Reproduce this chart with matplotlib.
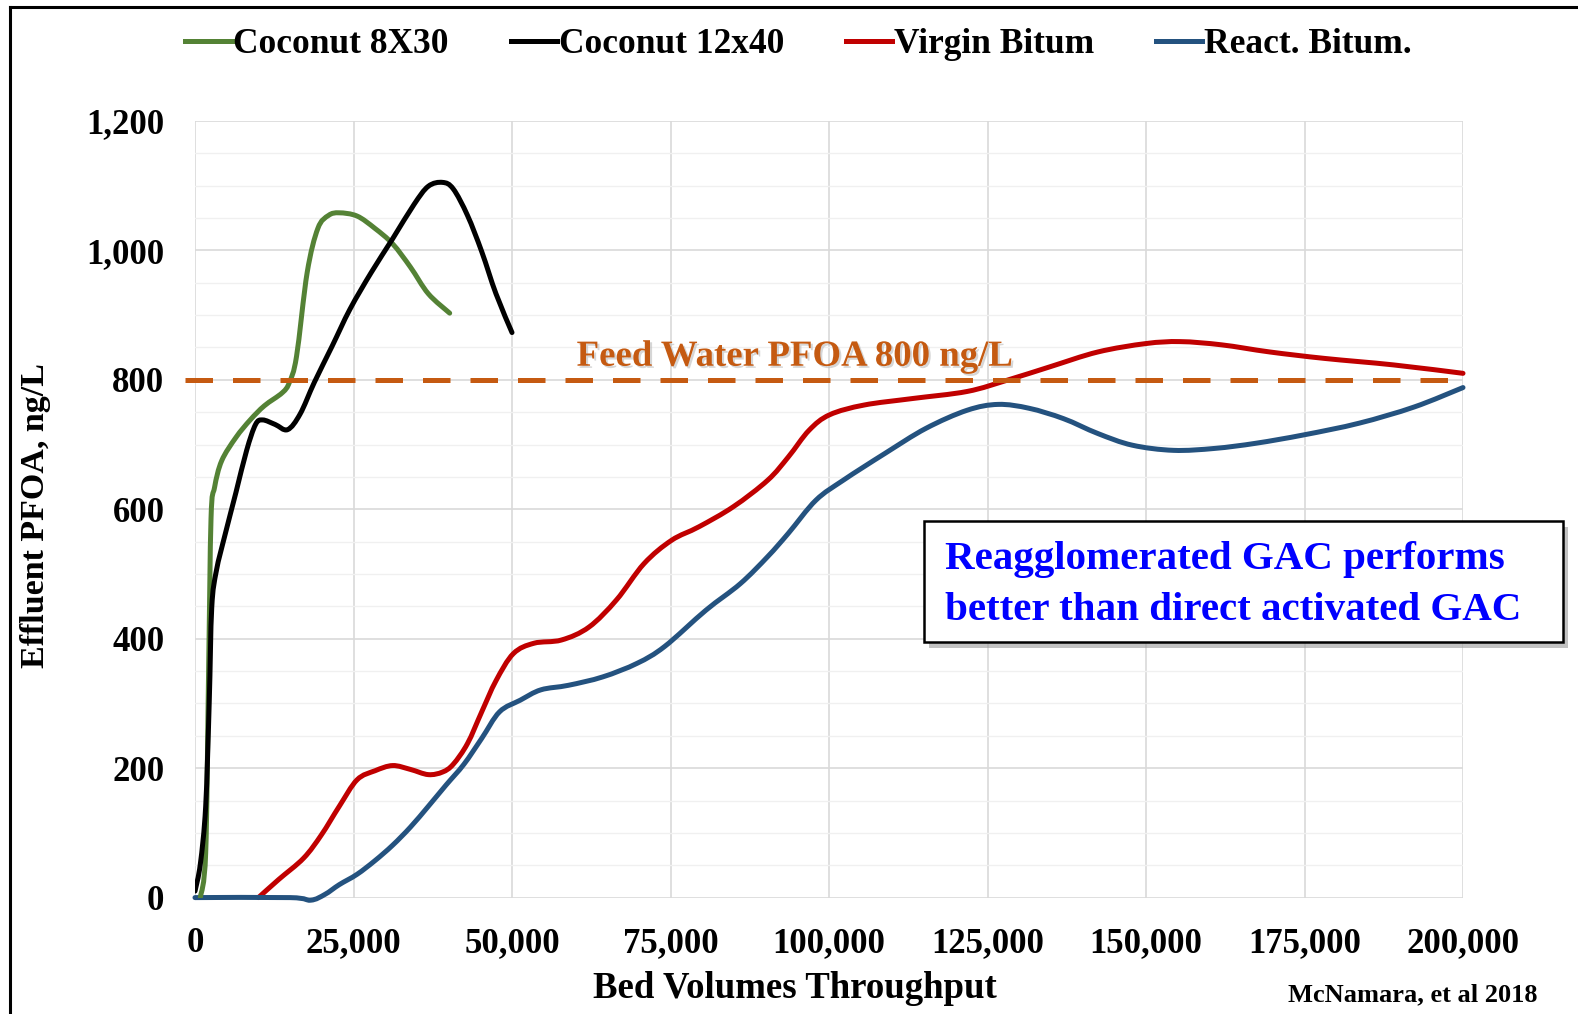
import matplotlib
matplotlib.use("Agg")
import matplotlib.pyplot as plt
import matplotlib.patheffects as pe
from matplotlib.patches import Rectangle, PathPatch
from matplotlib.path import Path
from matplotlib.lines import Line2D
from matplotlib.ticker import MultipleLocator, FuncFormatter

# ---------------- data ----------------
coconut_8x30_bv = [843, 1685, 2135, 2528, 3090, 4213, 6460, 8708, 10955, 13764, 14887,
                   16011, 17697, 19382, 21067, 22753, 25562, 28371, 31180, 33989, 36798, 40169]
coconut_8x30_val = [0, 69, 343, 586, 634, 675, 711, 738, 760, 780, 796,
                    836, 966, 1034, 1054, 1058, 1053, 1034, 1010, 974, 933, 903]

coconut_12x40_bv = [0, 843, 1685, 2247, 2640, 3371, 4775, 6460, 8146, 9551, 10674, 12640,
                    14606, 16573, 18820, 21629, 24438, 27809, 31180, 34551, 36798, 39045,
                    40730, 42978, 45225, 47472, 50000]
coconut_12x40_val = [10, 52, 141, 303, 448, 505, 562, 626, 691, 731, 738, 731,
                     723, 747, 796, 852, 909, 966, 1018, 1071, 1099, 1105,
                     1095, 1054, 998, 933, 873]

virgin_bv = [10000, 13202, 17135, 19944, 22753, 25562, 28400, 31180, 33989, 36798, 39045,
             40730, 42978, 45225, 47472, 50217, 53471, 57809, 62148, 66486, 70824, 75163,
             79501, 84924, 90347, 93601, 96855, 100108, 105531, 113124, 121800, 128308,
             134816, 142408, 149995, 155423, 161930, 169523, 178200, 189046, 200000]
virgin_val = [0, 28, 61, 97, 141, 182, 196, 204, 198, 190, 194,
              206, 238, 287, 335, 377, 393, 398, 418, 460, 516, 552,
              573, 604, 645, 681, 722, 746, 761, 771, 782, 800,
              820, 843, 856, 859, 854, 843, 833, 823, 810]

react_bv = [0, 15000, 18260, 20500, 22753, 25562, 28371, 31180, 33989, 36798, 39607, 42416,
            45225, 48034, 51301, 54555, 58893, 64317, 69740, 74078, 80586, 86009, 90347,
            93601, 97939, 102277, 108785, 115293, 121800, 126681, 131561, 136984, 142408,
            147831, 154338, 160846, 167353, 174946, 183623, 192299, 200000]
react_val = [0, 0, -4, 5, 20, 36, 57, 81, 109, 141, 174, 206,
             246, 287, 305, 321, 328, 341, 362, 388, 444, 485, 527,
             563, 614, 645, 686, 725, 753, 762, 756, 740, 717,
             699, 691, 694, 702, 715, 733, 758, 788]

feed_bv = [-1500, 200000]
feed_val = [800, 800]

series_names = ["Coconut 8X30", "Coconut 12x40", "Virgin Bitum", "React. Bitum."]
series_colors = ["#548235", "#000000", "#C00000", "#24527F"]

x_ticks = [0, 25000, 50000, 75000, 100000, 125000, 150000, 175000, 200000]
y_ticks = [0, 200, 400, 600, 800, 1000, 1200]

# ---------------- figure ----------------
SERIF = ["Liberation Serif", "DejaVu Serif"]
plt.rcParams["font.family"] = SERIF
plt.rcParams["font.weight"] = "bold"

W, H = 1578, 1014
fig = plt.figure(figsize=(W / 100, H / 100), dpi=100)
ax = fig.add_axes([195 / W, 1 - 897.6 / H, (1463 - 195) / W, (897.6 - 120.9) / H])

ax.set_xlim(0, 200000)
ax.set_ylim(0, 1200)
ax.set_xticks(x_ticks)
ax.set_yticks(y_ticks)
ax.yaxis.set_minor_locator(MultipleLocator(50))
ax.xaxis.set_major_formatter(FuncFormatter(lambda v, p: f"{int(v):,}"))
ax.yaxis.set_major_formatter(FuncFormatter(lambda v, p: f"{int(v):,}"))
ax.grid(which="major", axis="both", color="#D9D9D9", lw=1.2)
ax.grid(which="minor", axis="y", color="#F0F0F0", lw=1.0)
ax.set_axisbelow(True)
for s in ax.spines.values():
    s.set_visible(False)
ax.tick_params(axis="both", which="both", length=0)
ax.tick_params(axis="y", pad=22, labelsize=25)
ax.tick_params(axis="x", pad=21, labelsize=25)
for lab in ax.get_xticklabels() + ax.get_yticklabels():
    lab.set_fontweight("bold")


def smooth_line(xs, ys, color, label, zorder, clip=True):
    """Excel-style smoothed line: cubic Bezier segments through the data points."""
    pts = list(zip(xs, ys))
    n = len(pts)
    verts = [pts[0]]
    codes = [Path.MOVETO]
    for i in range(n - 1):
        p0 = pts[i - 1] if i > 0 else pts[i]
        p1 = pts[i]
        p2 = pts[i + 1]
        p3 = pts[i + 2] if i + 2 < n else pts[i + 1]
        c1 = (p1[0] + (p2[0] - p0[0]) / 6.0, p1[1] + (p2[1] - p0[1]) / 6.0)
        c2 = (p2[0] - (p3[0] - p1[0]) / 6.0, p2[1] - (p3[1] - p1[1]) / 6.0)
        verts += [c1, c2, p2]
        codes += [Path.CURVE4] * 3
    patch = PathPatch(Path(verts, codes), facecolor="none", edgecolor=color, lw=3.6,
                      capstyle="round", joinstyle="round", zorder=zorder,
                      transform=ax.transData)
    patch.set_clip_on(clip)
    ax.add_patch(patch)
    # proxy for legend
    ax.plot([], [], color=color, lw=3.6, label=label)


smooth_line(coconut_8x30_bv, coconut_8x30_val, series_colors[0], series_names[0], 4)
smooth_line(coconut_12x40_bv, coconut_12x40_val, series_colors[1], series_names[1], 4)
smooth_line(virgin_bv, virgin_val, series_colors[2], series_names[2], 3, clip=False)
smooth_line(react_bv, react_val, series_colors[3], series_names[3], 3, clip=False)

ax.plot(feed_bv, feed_val, color="#C55A11", lw=3.6, dashes=(5.5, 4.0),
        clip_on=False, zorder=5)

ax.text(0.473, 0.697, "Feed Water PFOA 800 ng/L", transform=ax.transAxes,
        ha="center", va="center", fontsize=26.5, fontweight="bold", color="#C55A11",
        path_effects=[pe.SimplePatchShadow(offset=(1.5, -1.5), shadow_rgbFace="#BBBBBB", alpha=0.6),
                      pe.Normal()], zorder=6)

# legend
fig.legend(loc="center", bbox_to_anchor=(0.506, 0.956), ncol=4, frameon=False,
           handlelength=1.3, handletextpad=0.05, columnspacing=1.75,
           prop={"family": SERIF, "weight": "bold", "size": 25.5})

# axis labels
fig.text(795 / W, 1 - 988 / H, "Bed Volumes Throughput", ha="center", va="center",
         fontsize=26.5, fontweight="bold")
fig.text(36 / W, 1 - 515 / H, "Effluent PFOA, ng/L", ha="center", va="center",
         rotation=90, fontsize=24.5, fontweight="bold")

fig.text(1538 / W, 1 - 995 / H, "McNamara, et al 2018", ha="right", va="center",
         fontsize=19, fontweight="bold")

# annotation box with shadow
bx0, bx1 = 924 / W, 1563 / W
by1, by0 = 1 - 521 / H, 1 - 642 / H
fig.patches.append(Rectangle((bx0 + 5 / W, by0 - 6 / H), bx1 - bx0, by1 - by0,
                             transform=fig.transFigure, facecolor="#9A9A9A",
                             edgecolor="none", alpha=0.6, zorder=9))
fig.patches.append(Rectangle((bx0, by0), bx1 - bx0, by1 - by0,
                             transform=fig.transFigure, facecolor="white",
                             edgecolor="black", lw=1.8, zorder=10))
fig.text(945 / W, 1 - 559 / H, "Reagglomerated GAC performs", ha="left", va="center",
         fontsize=29.5, fontweight="bold", color="#0000FF", zorder=11)
fig.text(945 / W, 1 - 610 / H, "better than direct activated GAC", ha="left", va="center",
         fontsize=29.5, fontweight="bold", color="#0000FF", zorder=11)

# figure border (left and top)
fig.lines.append(Line2D([10 / W, 10 / W], [0, 1 - 7 / H], transform=fig.transFigure,
                        color="black", lw=2.2))
fig.lines.append(Line2D([10 / W, 1], [1 - 7 / H, 1 - 7 / H], transform=fig.transFigure,
                        color="black", lw=2.2))

fig.savefig("out.png", dpi=100, facecolor="white")
